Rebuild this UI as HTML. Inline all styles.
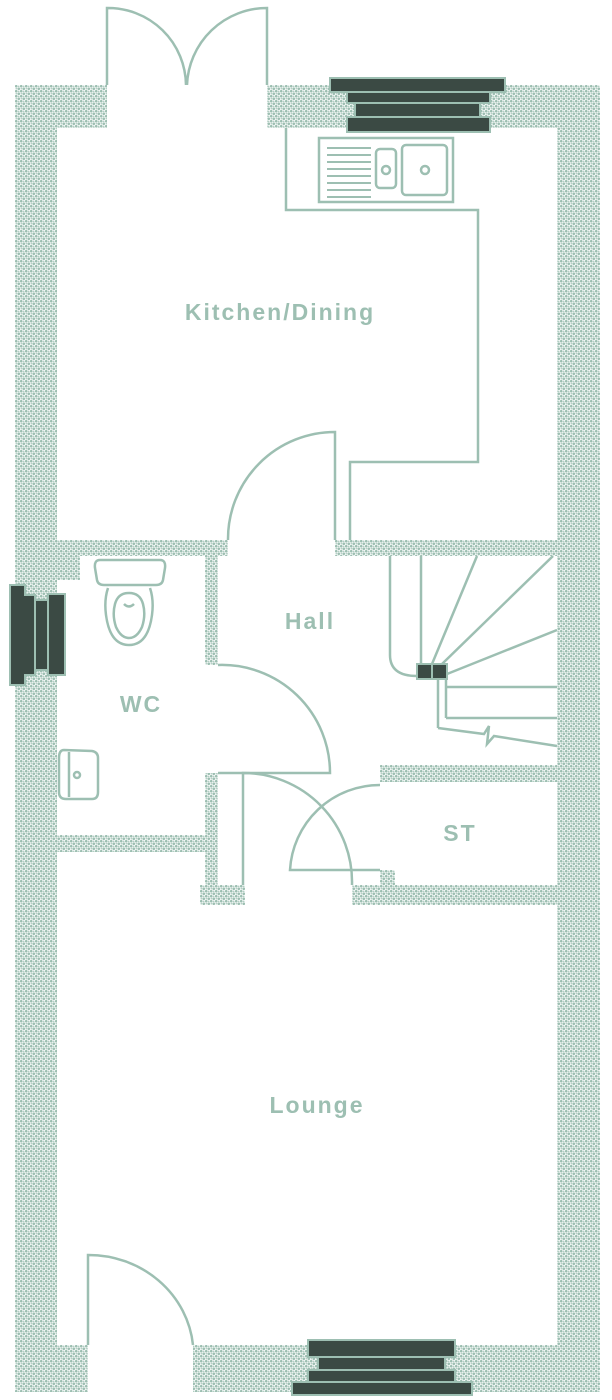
<!DOCTYPE html>
<html><head><meta charset="utf-8"><style>
html,body{margin:0;padding:0;background:#fff;}
svg{display:block;}
text{font-family:"Liberation Sans",sans-serif;font-weight:bold;fill:#9dbfb2;letter-spacing:2px;font-size:23px;text-anchor:middle;}
</style></head><body>
<svg width="612" height="1400" viewBox="0 0 612 1400" xmlns="http://www.w3.org/2000/svg">
<defs>
<pattern id="d" width="5" height="5" patternUnits="userSpaceOnUse">
<rect width="5" height="5" fill="#fff"/>
<circle cx="1.25" cy="1.25" r="1.35" fill="#9dbfb2"/>
<circle cx="3.75" cy="3.75" r="1.35" fill="#9dbfb2"/>
<circle cx="3.75" cy="1.25" r="0.8" fill="#a9c8bc"/>
<circle cx="1.25" cy="3.75" r="0.8" fill="#a9c8bc"/>
</pattern>
</defs>
<g fill="url(#d)">
<rect x="15" y="85" width="92" height="43"/>
<rect x="267" y="85" width="333" height="43"/>
<rect x="15" y="85" width="42" height="1307"/>
<rect x="557" y="85" width="43" height="1307"/>
<rect x="15" y="1345" width="73" height="47"/>
<rect x="193" y="1345" width="407" height="47"/>
<rect x="57" y="540" width="171" height="16"/>
<rect x="335" y="540" width="222" height="16"/>
<rect x="57" y="556" width="23" height="24"/>
<rect x="205" y="556" width="13" height="109"/>
<rect x="205" y="773" width="13" height="132"/>
<rect x="57" y="835" width="150" height="17"/>
<rect x="200" y="885" width="45" height="20"/>
<rect x="352" y="885" width="205" height="20"/>
<rect x="380" y="765" width="177" height="17"/>
<rect x="380" y="870" width="15" height="15"/>
</g>
<g fill="none" stroke="#9dbfb2" stroke-width="2.5">
<path d="M107 85 V8 A78 78 0 0 1 186 85"/>
<path d="M267 85 V8 A80 80 0 0 0 187 85"/>
<path d="M286 128 V210 H478 V462 H350 V540"/>
<rect x="319" y="138" width="134" height="64"/>
<path d="M327 148H371M327 155H371M327 162H371M327 169H371M327 176H371M327 183H371M327 190H371M327 197H371" stroke-width="2"/>
<rect x="376" y="149" width="20" height="39" rx="4"/>
<circle cx="386" cy="170" r="4"/>
<rect x="402" y="145" width="45" height="50" rx="4"/>
<circle cx="425" cy="170" r="4"/>
<path d="M335 540 V432 A107 107 0 0 0 228 540"/>
<path d="M218 665 A108 108 0 0 1 330 773 H218"/>
<path d="M243 885 V773 A109 109 0 0 1 352 885"/>
<path d="M380 870 H290 A90 90 0 0 1 380 785"/>
<path d="M88 1345 V1255 A105 100 0 0 1 193 1345"/>
<path d="M390 556 V655 Q390 676 417 676"/>
<path d="M421 556 V664"/>
<path d="M432 664 L477 556"/>
<path d="M442 664 L553 556"/>
<path d="M447 674 L557 630"/>
<path d="M446 687 H557 M446 718 H557"/>
<path d="M438 679 V728 M446 679 V718"/>
<path d="M438 728 L484 734 L489 726 L487 744 L494 736 L557 746"/>
<path d="M100 560 H160 Q166 560 165 568 L163 580 Q162 585 156 585 H104 Q98 585 97 580 L95 568 Q94 560 100 560 Z"/>
<path d="M108 588 Q104 600 106 615 Q110 645 129 645 Q148 645 152 615 Q154 600 150 588"/>
<path d="M115 604 Q112 615 116 627 Q121 638 129 638 Q137 638 142 627 Q146 615 143 604 Q140 593 129 593 Q118 593 115 604 Z"/>
<path d="M124 604 Q129 609 134 604"/>
<path d="M64 750 Q59 750 59 758 V792 Q59 799 66 799 H92 Q98 799 98 792 V758 Q98 752 92 751 Z"/>
<path d="M69 752 V797"/>
<circle cx="77" cy="775" r="3"/>
</g>
<g fill="#3b4a44" stroke="#9dbfb2" stroke-width="2">
<rect x="330" y="78" width="175" height="14"/>
<rect x="347" y="92" width="143" height="11"/>
<rect x="355" y="103" width="125" height="14"/>
<rect x="347" y="117" width="143" height="15"/>
<path d="M10 585 H25 V595 H35 V675 H25 V685 H10 Z"/>
<rect x="35" y="600" width="13" height="70"/>
<rect x="48" y="594" width="17" height="81"/>
<rect x="308" y="1340" width="147" height="17"/>
<rect x="318" y="1357" width="127" height="13"/>
<rect x="308" y="1370" width="147" height="12"/>
<rect x="292" y="1382" width="180" height="13"/>
<rect x="417" y="664" width="15" height="15"/>
<rect x="432" y="664" width="15" height="15"/>
</g>
<text x="280" y="320">Kitchen/Dining</text>
<text x="310" y="629">Hall</text>
<text x="141" y="712">WC</text>
<text x="460" y="841">ST</text>
<text x="317" y="1113">Lounge</text>
</svg>
</body></html>
